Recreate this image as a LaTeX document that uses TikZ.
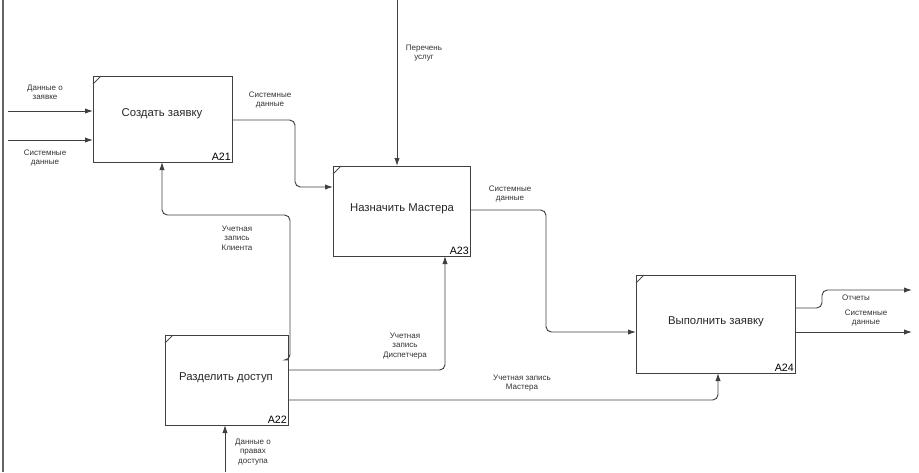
\documentclass[tikz,border=0pt]{standalone}
\usepackage{fontspec}
\setmainfont{Liberation Sans}
\usetikzlibrary{arrows.meta}
\begin{document}
\begin{tikzpicture}[x=0.75pt,y=-0.75pt,
  box/.style={draw=black!75,line width=0.8pt,minimum width=0pt,inner sep=0pt},
  ln/.style={draw=black!75,line width=0.7pt,rounded corners=4pt,-{Latex[length=6pt,width=4pt]}},
  lab/.style={font=\fontsize{6}{7}\selectfont,align=center,text=black!80},
  ttl/.style={font=\fontsize{8.5}{10}\selectfont,text=black!85},
  num/.style={font=\fontsize{8}{9}\selectfont,anchor=south east,inner sep=1.5pt}]
\useasboundingbox (0,0) rectangle (919,472);
\draw[black!60,line width=0.8pt] (3,0) -- (3,472);
\newcommand{\mkbox}[6]{%
  \node[box,minimum width=#4*0.75pt,minimum height=#5*0.75pt,anchor=north west] (#1) at (#2,#3) {};
  \draw[black!70,line width=0.6pt] ($(#1.north west)+(0,8)$) -- ($(#1.north west)+(8,0)$);
  \node[num] at (#1.south east) {#6};}
\usetikzlibrary{calc}
\mkbox{a21}{93}{76}{139}{86}{A21}
\mkbox{a23}{333}{166}{137}{90}{A23}
\mkbox{a22}{165}{335}{123}{90}{A22}
\mkbox{a24}{636}{275}{159}{98}{A24}
\node[ttl] at (162,114) {Создать заявку};
\node[ttl] at (402,209) {Назначить Мастера};
\node[ttl] at (226,378) {Разделить доступ};
\node[ttl] at (716,322) {Выполнить заявку};
% inputs A21
\coordinate (i1) at (8,111); \coordinate (i2) at (8,140);
\draw[ln] (i1) -- (i1 -| a21.west);
\draw[ln] (i2) -- (i2 -| a21.west);
\node[lab] at (45,92) {Данные о\\заявке};
\node[lab] at (45,158) {Системные\\данные};
% A21 -> A23
\draw[ln] (232,120) -- (295,120) -- (295,187) -- (a23.west |- 0,187);
\node[lab] at (270,100) {Системные\\данные};
% top control
\coordinate (t) at (397,0);
\draw[ln] (t) -- (t |- a23.north);
\node[lab] at (424,53) {Перечень\\услуг};
% A22 -> A21
\draw[ln] (288,360) -- (290,360) -- (290,215) -- (162,215) -- (162,162);
\node[lab] at (237,238) {Учетная\\запись\\Клиента};
% A22 -> A23
\draw[ln] (288,370) -- (445,370) -- (445,256);
\node[lab] at (405,346) {Учетная\\запись\\Диспетчера};
% A22 -> A24
\draw[ln] (288,400) -- (718,400) -- (718,373);
\node[lab] at (522,383) {Учетная запись\\Мастера};
% A23 -> A24
\draw[ln] (470,210) -- (546,210) -- (546,332) -- (636,332);
\node[lab] at (510,194) {Системные\\данные};
% outputs
\coordinate (o1) at (912,290); \coordinate (o2) at (912,332);
\draw[ln] (795,308) -- (822,308) -- (822,290) -- (o1);
\draw[ln] (795,332) -- (o2);
\node[lab] at (856,298) {Отчеты};
\node[lab] at (866,318) {Системные\\данные};
% A22 bottom
\coordinate (b) at (225,472);
\draw[ln] (b) -- (225,425);
\node[lab] at (253,452) {Данные о\\правах\\доступа};
\end{tikzpicture}
\end{document}
